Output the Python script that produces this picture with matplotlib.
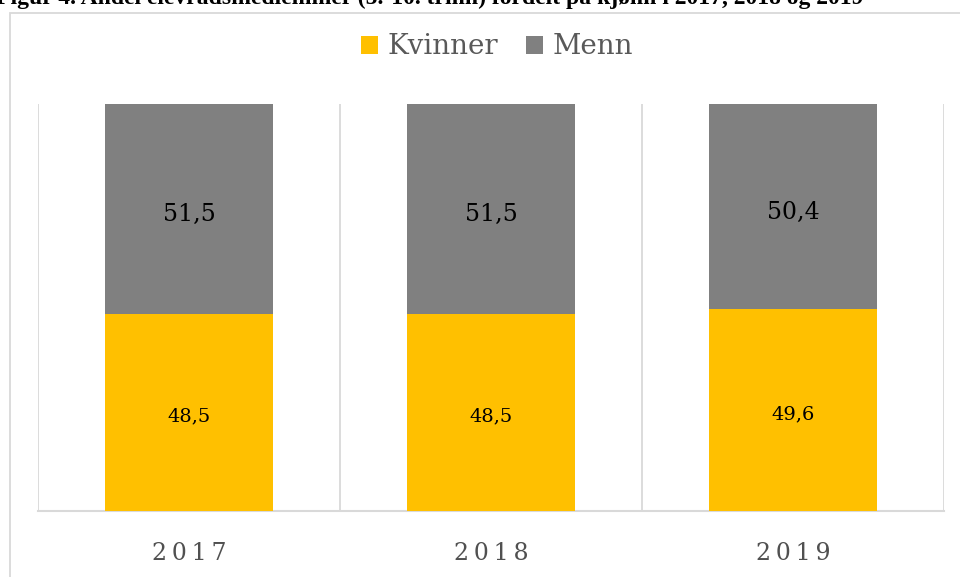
import matplotlib
matplotlib.use("Agg")
import matplotlib.pyplot as plt
from matplotlib.patches import Rectangle

years = ["2017", "2018", "2019"]
kvinner = [48.5, 48.5, 49.6]
menn = [51.5, 51.5, 50.4]
series_names = ["Kvinner", "Menn"]
title_text = "Figur 4. Andel elevrådsmedlemmer (5.-10. trinn) fordelt på kjønn i 2017, 2018 og 2019"

YELLOW = "#FFC000"
GRAY = "#808080"
GRID = "#D9D9D9"
TXT = "#595959"
SERIF = ["DejaVu Serif"]

W, H = 960, 577
fig = plt.figure(figsize=(W / 100, H / 100), dpi=100)

# chart outer border (cropped)
fig.patches.append(Rectangle((10 / W, -0.1), 1.2, 1 - 13 / H + 0.1, transform=fig.transFigure,
                             fill=False, edgecolor=GRID, linewidth=1.3))

# caption, cropped at the top edge as in the source
fig.text(-0.004, 1 - 4 / H, title_text, fontsize=17, fontweight="bold", family=["Liberation Serif"],
         va="baseline", ha="left", color="#000000")

ax = fig.add_axes([38 / W, 66 / H, 906 / W, 407 / H])
x = list(range(len(years)))
b1 = ax.bar(x, kvinner, width=0.555, color=YELLOW, label=series_names[0], zorder=3)
b2 = ax.bar(x, menn, width=0.555, bottom=kvinner, color=GRAY, label=series_names[1], zorder=3)

ax.set_xlim(-0.5, len(years) - 0.5)
ax.set_ylim(0, 100)
for sep in [i - 0.5 for i in range(len(years) + 1)]:
    ax.axvline(sep, color=GRID, linewidth=1.3, zorder=1)

for s in ["top", "right", "left"]:
    ax.spines[s].set_visible(False)
ax.spines["bottom"].set_color(GRID)
ax.spines["bottom"].set_linewidth(1.5)
ax.set_yticks([])
ax.set_xticks(x)
ax.set_xticklabels(["\u2009".join(y) for y in years], family=SERIF, fontsize=17, color="#505050")
ax.tick_params(axis="x", length=0, pad=22)

for i in x:
    ax.text(i, kvinner[i] / 2 - 1.0, f"{kvinner[i]:.1f}".replace(".", ","), ha="center", va="center",
            fontsize=14, family=SERIF, color="black", zorder=4)
    ax.text(i, kvinner[i] + menn[i] / 2 - 1.5, f"{menn[i]:.1f}".replace(".", ","), ha="center",
            va="center", fontsize=17, family=SERIF, color="black", zorder=4)

leg = fig.legend(handles=[b1, b2], labels=series_names, loc="center", bbox_to_anchor=(497 / W, 1 - 47 / H),
                 ncol=2, frameon=False, prop={"family": "DejaVu Serif", "size": 20},
                 handlelength=0.62, handleheight=0.62, handletextpad=0.35, columnspacing=1.0)
for t in leg.get_texts():
    t.set_color(TXT)

fig.savefig("out.png", dpi=100)
